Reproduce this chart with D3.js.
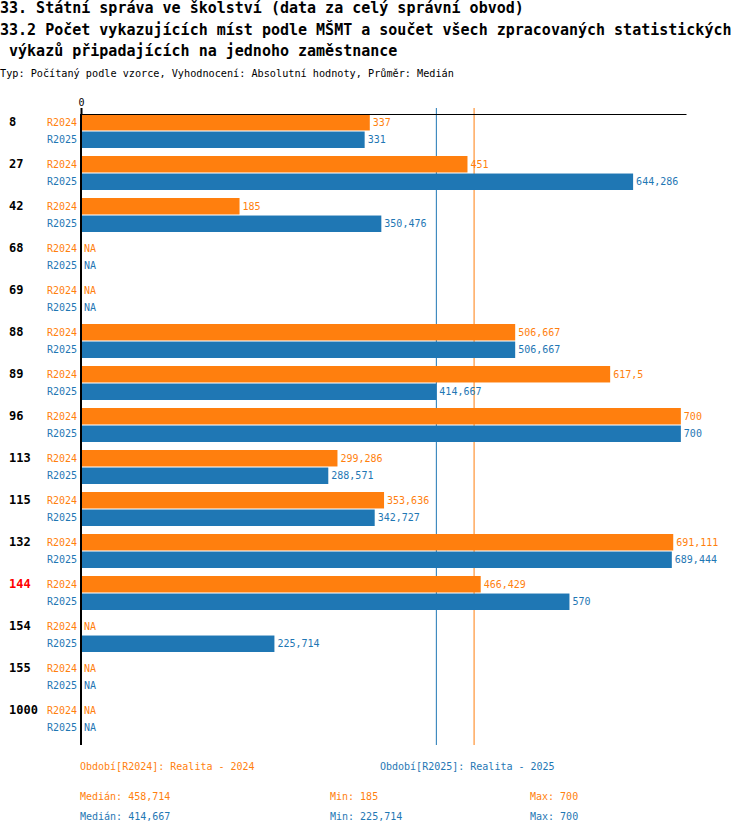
<!DOCTYPE html>
<html>
<head>
<meta charset="utf-8">
<script src="https://cdn.jsdelivr.net/npm/d3@7"></script>
<style>
  body { margin: 0; background: #fff; }
  text { font-family: "DejaVu Sans Mono", monospace; }
</style>
</head>
<body>
<div id="chart"></div>
<script>
// categories and series values (NA = null)
const categories = ["8", "27", "42", "68", "69", "88", "89", "96", "113", "115", "132", "144", "154", "155", "1000"];
const highlighted = ["144"];
const values2024 = [337, 451, 185, null, null, 506.667, 617.5, 700, 299.286, 353.636, 691.111, 466.429, null, null, null];
const values2025 = [331, 644.286, 350.476, null, null, 506.667, 414.667, 700, 288.571, 342.727, 689.444, 570, 225.714, null, null];
const seriesNames = ["R2024", "R2025"];
const legendLabels = ["Období[R2024]: Realita - 2024", "Období[R2025]: Realita - 2025"];
const medians = [458.714, 414.667];
const xTicks = [0];

const colors = ["#ff7f0e", "#1f77b4"];
const W = 750, H = 834;

const svg = d3.select("#chart").append("svg")
  .attr("width", W)
  .attr("height", H);

const fmt = v => String(+v.toFixed(3)).replace(".", ",");

// titles
svg.append("text").attr("x", 0).attr("y", 13)
  .attr("font-size", "15px").attr("font-weight", "bold")
  .text("33. Státní správa ve školství (data za celý správní obvod)");
svg.append("text").attr("x", 0).attr("y", 35)
  .attr("font-size", "15px").attr("font-weight", "bold")
  .text("33.2 Počet vykazujících míst podle MŠMT a součet všech zpracovaných statistických");
svg.append("text").attr("x", 0).attr("y", 56)
  .attr("font-size", "15px").attr("font-weight", "bold")
  .attr("xml:space", "preserve")
  .text(" výkazů připadajících na jednoho zaměstnance");
svg.append("text").attr("x", 0).attr("y", 77)
  .attr("font-size", "10.2px")
  .text("Typ: Počítaný podle vzorce, Vyhodnocení: Absolutní hodnoty, Průměr: Medián");

// scales
const x = d3.scaleLinear().domain([0, 706]).range([81, 686]);
const y = d3.scaleBand().domain(categories).range([110, 740]);   // step 42
const sub = d3.scaleBand().domain(seriesNames).range([0, 34]).paddingInner(0.06);

const axisTop = 114, axisBottom = 745;

// median lines
medians.forEach((m, i) => {
  svg.append("line")
    .attr("x1", x(m)).attr("x2", x(m))
    .attr("y1", 108).attr("y2", axisBottom)
    .attr("stroke", colors[i]).attr("stroke-width", 1);
});

// rows
const rows = svg.selectAll("g.row")
  .data(categories)
  .join("g")
  .attr("class", "row")
  .attr("transform", d => `translate(0, ${y(d) + 4})`);

rows.append("text")
  .attr("x", 9)
  .attr("y", sub.bandwidth() / 2 + 4)
  .attr("font-size", "12px")
  .attr("font-weight", "bold")
  .attr("fill", d => highlighted.includes(d) ? "#ff0000" : "#000")
  .text(d => d);

const series = [values2024, values2025];
seriesNames.forEach((s, si) => {
  rows.append("text")
    .attr("x", 77)
    .attr("y", sub(s) + sub.bandwidth() / 2 + 3.5)
    .attr("text-anchor", "end")
    .attr("font-size", "10px")
    .attr("fill", colors[si])
    .text(s);

  rows.each(function(d, i) {
    const v = series[si][i];
    const g = d3.select(this);
    if (v !== null) {
      g.append("rect")
        .attr("x", x(0) + 1)
        .attr("y", sub(s))
        .attr("width", x(v) - x(0) - 1)
        .attr("height", sub.bandwidth())
        .attr("fill", colors[si]);
    }
    g.append("text")
      .attr("x", v !== null ? x(v) + 3 : x(0) + 3)
      .attr("y", sub(s) + sub.bandwidth() / 2 + 3.5)
      .attr("font-size", "10px")
      .attr("fill", colors[si])
      .text(v !== null ? fmt(v) : "NA");
  });
});

// axis on top
const axis = svg.append("g")
  .attr("transform", `translate(0, ${axisTop})`)
  .call(d3.axisTop(x).tickValues(xTicks).tickSize(6).tickSizeOuter(0).tickFormat(d3.format("d")));
axis.select(".domain").attr("stroke", "#000");
axis.selectAll(".tick line").attr("stroke", "#000").attr("stroke-width", 2);
axis.selectAll(".tick text")
  .attr("font-family", "DejaVu Sans Mono, monospace")
  .attr("font-size", "10px").attr("fill", "#000").attr("dy", "0.1em");

// vertical zero line
svg.append("line")
  .attr("x1", x(0)).attr("x2", x(0))
  .attr("y1", axisTop).attr("y2", axisBottom)
  .attr("stroke", "#000").attr("stroke-width", 2);

// legend
legendLabels.forEach((l, i) => {
  svg.append("text")
    .attr("x", [80, 380][i]).attr("y", 770)
    .attr("font-size", "10px").attr("fill", colors[i])
    .text(l);
});

const stats = [
  [medians[0], d3.min(values2024.filter(v => v !== null)), d3.max(values2024)],
  [medians[1], d3.min(values2025.filter(v => v !== null)), d3.max(values2025)]
];
const statLabels = ["Medián: ", "Min: ", "Max: "];
const statX = [80, 330, 530];
stats.forEach((row, i) => {
  row.forEach((v, j) => {
    svg.append("text")
      .attr("x", statX[j]).attr("y", 800 + i * 20)
      .attr("font-size", "10px").attr("fill", colors[i])
      .attr("xml:space", "preserve")
      .text(statLabels[j] + fmt(v));
  });
});
</script>
</body>
</html>
